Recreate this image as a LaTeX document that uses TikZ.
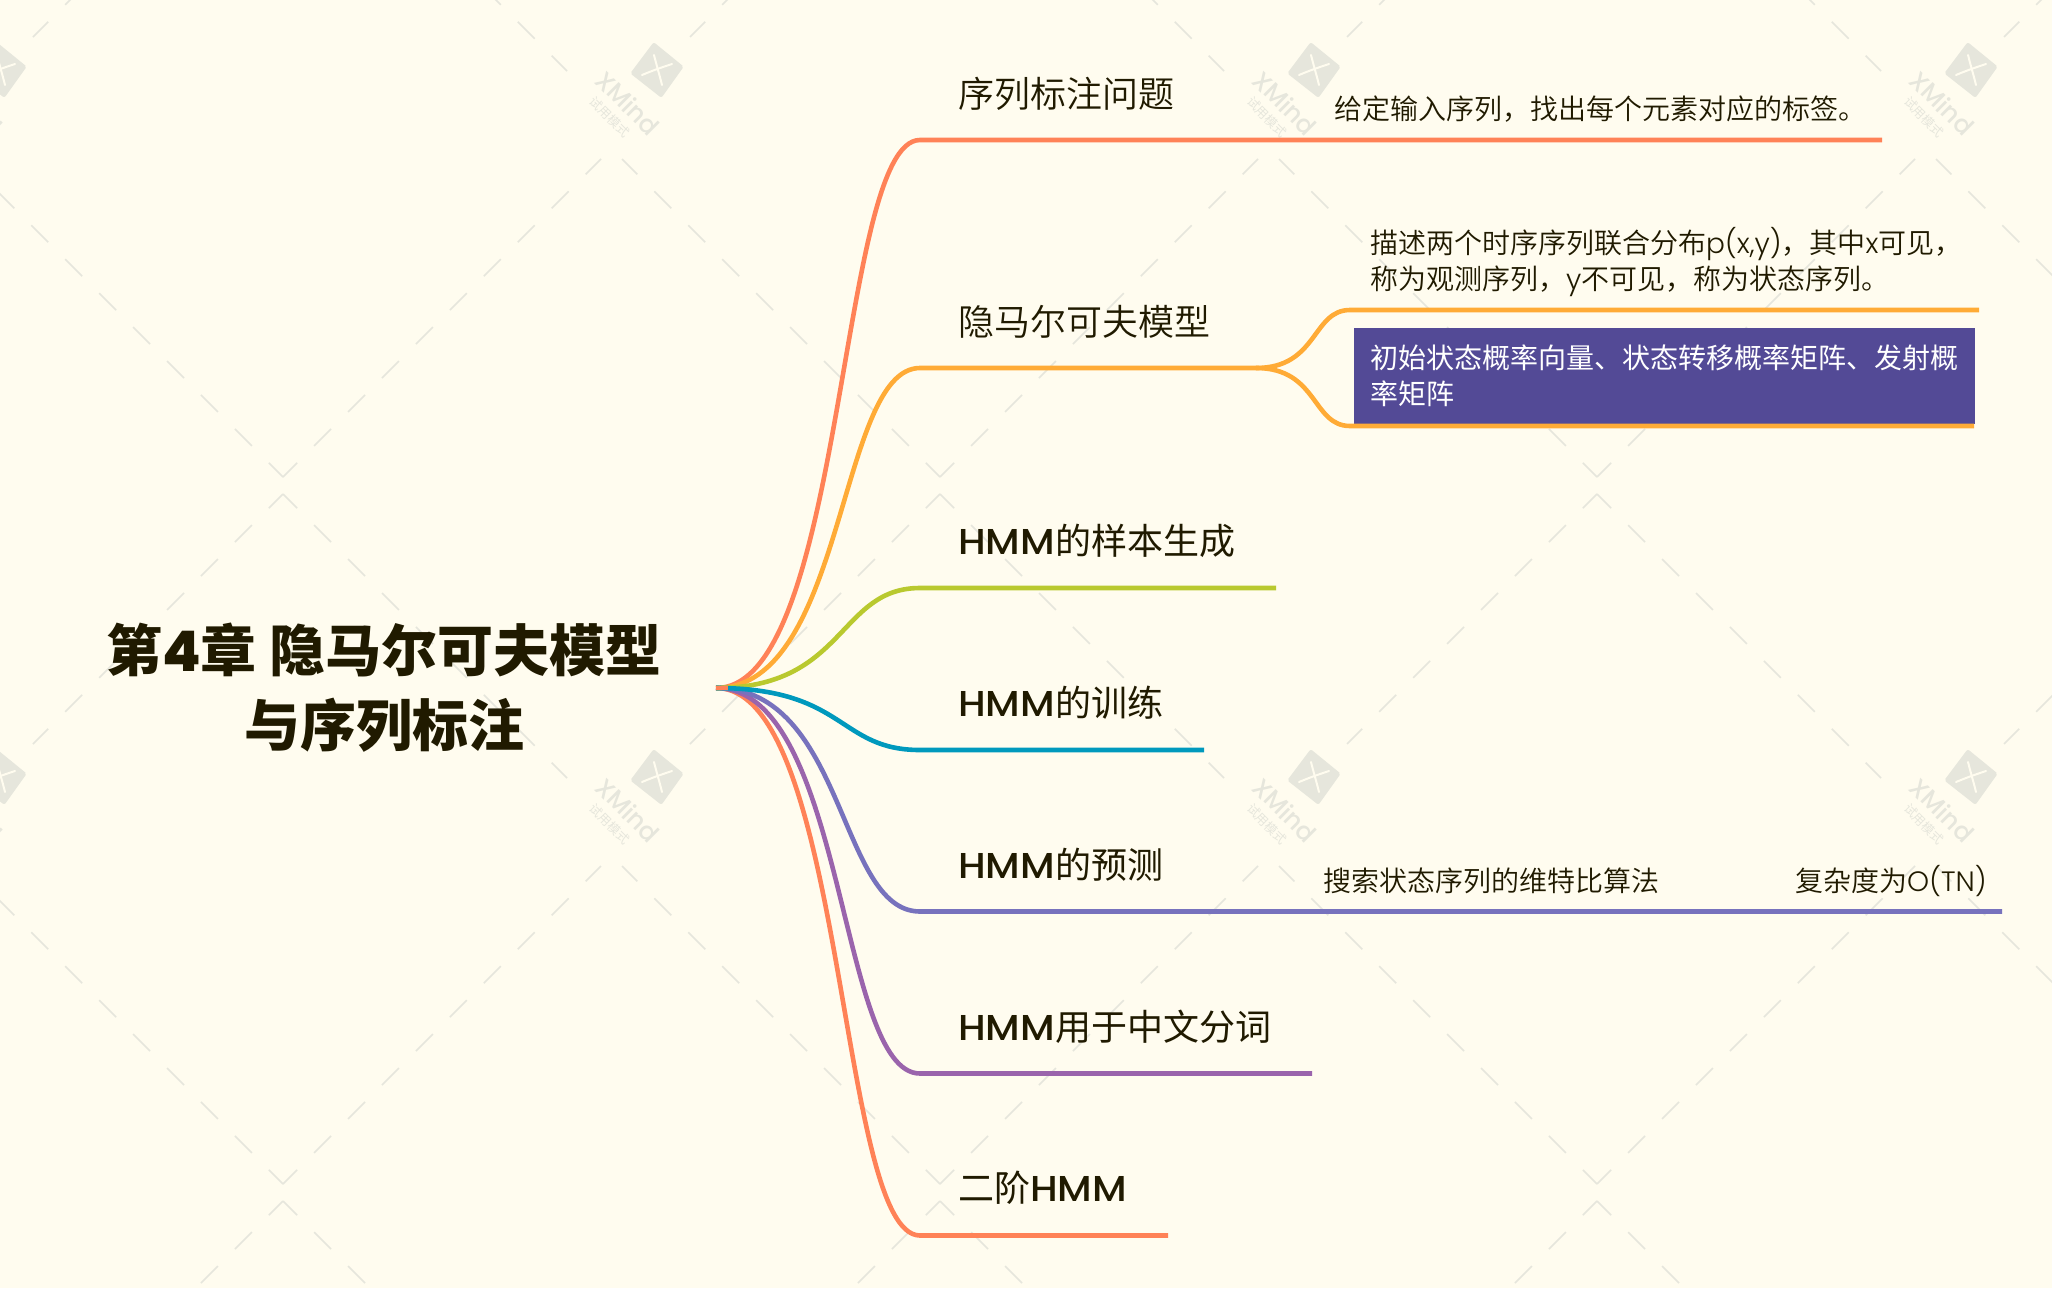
\documentclass[tikz,border=0pt]{standalone}
\usepackage{fontspec}
\usetikzlibrary{calc}
\setmainfont{Noto Sans CJK SC}
\newfontfamily\cjk{Noto Sans CJK SC}
\newfontfamily\cjkl{Noto Sans CJK SC DemiLight}
\newfontfamily\cjkb{Noto Sans CJK SC Black}
\newfontfamily\latl{Poppins Light}
\newfontfamily\latm{Poppins Medium}
\newfontfamily\lath[FakeStretch=1.09]{Poppins Medium}
\definecolor{bgc}{HTML}{FFFCEF}
\definecolor{ink}{HTML}{201A00}
\definecolor{wm}{HTML}{E6E6DC}
\definecolor{bcoral}{HTML}{FF8257}
\definecolor{borange}{HTML}{FFAB36}
\definecolor{bgreen}{HTML}{B9C92F}
\definecolor{bteal}{HTML}{0099BD}
\definecolor{bindigo}{HTML}{7772BD}
\definecolor{bpurple}{HTML}{9A64AC}
\definecolor{boxc}{HTML}{534A96}
\tikzset{
  x=1pt,y=-1pt,
  branch/.style={line width=4.6pt,line join=round},
  lattice/.style={draw=wm,line width=1.6pt,dash pattern=on 24pt off 24pt,dash phase=4pt},
  topic/.style={anchor=base west,inner sep=0pt,text=ink,font={\fontsize{36}{44}\cjkl}},
  hmm/.style={topic,font={\fontsize{36}{44}\cjk}},
  detail/.style={anchor=west,inner sep=0pt,text=ink,align=left,font={\fontsize{28}{36}\cjkl}},
  rootnode/.style={anchor=center,inner sep=0pt,align=center,text=ink,font={\fontsize{56}{75}\cjkb}},
  whitebox/.style={anchor=north west,fill=boxc,text=white,align=left,inner xsep=16pt,inner ysep=0pt,minimum width=621pt,minimum height=96pt,font={\fontsize{28}{36}\cjk}},
  wmlogo/.style={fill=wm,draw=wm,line width=4pt,line join=round},
  wmx/.style={draw=bgc,line width=2pt,line cap=round},
  wmtext/.style={inner sep=0pt,text=wm,rotate=-45},
}
\begin{document}
\begin{tikzpicture}
\useasboundingbox (0,0) rectangle (2052,1288);
\fill[bgc] (0,0) rectangle (2052,1288);
\begin{scope}
\clip (0,0) rectangle (2052,1288);
\foreach \i in {-1,0,1,2,3}{
 \foreach \j in {-1,0,1}{
  \begin{scope}[shift={(657*\i,707*\j)}]
   \coordinate (a) at (283,494);
   \coordinate (b) at (283,1184);
   \draw[lattice] (a) -- (567,778);
   \draw[lattice] (a) -- (33,744);
   \draw[lattice] (b) -- (601,866);
   \draw[lattice] (b) -- (-35,866);
   \begin{scope}[shift={(657,777)}]
    \filldraw[wmlogo] (-3,-25) -- (24,-3) -- (4,25) -- (-24,3) -- cycle;
    \draw[wmx] (-3,-15) .. controls (0,-3) and (2,3) .. (5,15);
    \draw[wmx] (-15,5) .. controls (-3,0) and (3,-2) .. (15,-6);
    \node[wmtext,font={\fontsize{25}{25}\latm}] (xm\i\j) at (-29,33) {XMind};
    \node[wmtext,font={\fontsize{12.5}{13}\cjk}] (sy\i\j) at (-47,47) {试用模式};
   \end{scope}
  \end{scope}
 }
}
\end{scope}

\coordinate (r) at (716,688);
\coordinate (tip) at (728,688);
\coordinate (c1) at (920,140);  \coordinate (e1) at (1882,140);
\coordinate (c2) at (920,368);  \coordinate (e2) at (1256,368);
\coordinate (c3) at (920,588);  \coordinate (e3) at (1276,588);
\coordinate (c4) at (920,750);  \coordinate (e4) at (1204,750);
\coordinate (c5) at (920,911.5);\coordinate (e5) at (2002,911.5);
\coordinate (c6) at (920,1073.5); \coordinate (e6) at (1312,1073.5);
\coordinate (c7) at (920,1235.5); \coordinate (e7) at (1168,1235.5);
\coordinate (s1) at (1350,310); \coordinate (f1) at (1979,310);
\coordinate (s2) at (1350,426); \coordinate (f2) at (1974,426);

\node[whitebox] (box) at (1354,328) {初始状态概率向量、状态转移概率矩阵、发射概\\率矩阵};

\draw[branch,bcoral] (r) .. controls ($(r)+(130,0)$) and ($(c7)+(-82,0)$) .. (c7) -- (e7);
\draw[branch,bcoral] (r) .. controls ($(r)+(130,0)$) and ($(c1)+(-82,0)$) .. (c1) -- (e1);
\draw[branch,bpurple] (r) .. controls ($(r)+(130,0)$) and ($(c6)+(-82,0)$) .. (c6) -- (e6);
\draw[branch,borange] (r) .. controls ($(r)+(130,0)$) and ($(c2)+(-82,0)$) .. (c2) -- (e2);
\draw[branch,bindigo] (r) .. controls ($(r)+(130,0)$) and ($(c5)+(-82,0)$) .. (c5) -- (e5);
\draw[branch,bgreen] (r) .. controls ($(r)+(130,0)$) and ($(c3)+(-82,0)$) .. (c3) -- (e3);
\draw[branch,bteal] (r) .. controls ($(r)+(130,0)$) and ($(c4)+(-82,0)$) .. (c4) -- (e4);
\draw[branch,bcoral] (r) -- (tip);
\draw[branch,borange] (e2) .. controls ($(e2)+(62,0)$) and ($(s1)+(-38,0)$) .. (s1) -- (f1);
\draw[branch,borange] (e2) .. controls ($(e2)+(62,0)$) and ($(s2)+(-38,0)$) .. (s2) -- (f2);

\node[rootnode] (root) at (384,687.5) {第{\latm\bfseries 4}章 隐马尔可夫模型\\与序列标注};

\node[topic] (t1) at (958,107.5) {序列标注问题};
\node[topic] (t2) at (958,335.5) {隐马尔可夫模型};
\node[hmm] (t3) at (958,554.5) {{\lath HMM}的样本生成};
\node[hmm] (t4) at (958,716.5) {{\lath HMM}的训练};
\node[hmm] (t5) at (958,878.5) {{\lath HMM}的预测};
\node[hmm] (t6) at (958,1040.5) {{\lath HMM}用于中文分词};
\node[hmm] (t7) at (958,1201.5) {二阶{\lath HMM}};

\node[detail] (d1) at (1334,109) {给定输入序列，找出每个元素对应的标签。};
\node[detail] (d2) at (1370,262) {描述两个时序序列联合分布{\latl p(x,y)}，其中{\latl x}可见，\\称为观测序列，{\latl y}不可见，称为状态序列。};
\node[detail] (d3) at (1323,881) {搜索状态序列的维特比算法};
\node[detail] (d4) at (1795,881) {复杂度为{\latl O(TN)}};
\end{tikzpicture}
\end{document}
